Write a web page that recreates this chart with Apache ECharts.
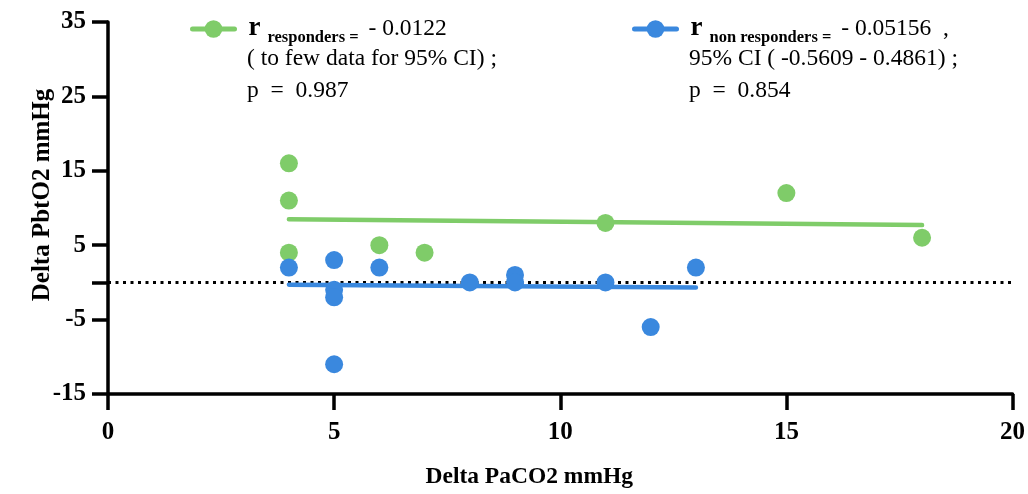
<!DOCTYPE html>
<html>
<head>
<meta charset="utf-8">
<script src="https://cdn.jsdelivr.net/npm/echarts@6/dist/echarts.min.js"></script>
<style>html,body{margin:0;padding:0;background:#fff}#c{width:1028px;height:494px}</style>
</head>
<body>
<div id="c"></div>
<script>
// Data
var respondersPoints = [[4,16],[4,11],[4,4],[6,5],[7,4],[11,8],[15,12],[18,6]];
var nonRespondersPoints = [[4,2],[5,3],[5,-1],[5,-2],[5,-11],[6,2],[8,0],[9,1],[9,0],[11,0],[12,-6],[13,2]];
var respondersFit = [[4,8.5],[18,7.7]];
var nonRespondersFit = [[4,-0.3],[13,-0.7]];
var zeroLine = [[0,0],[20,0]];
var xTicks = [0,5,10,15,20];
var yTickLabels = [-15,-5,5,15,25,35];
var yTicks = [-15,-5,0,5,15,25,35];
var respondersText = ['r', 'responders =', ' - 0.0122', '( to few data for 95% CI) ;', 'p  =  0.987'];
var nonRespondersText = ['r', 'non responders =', ' - 0.05156  ,', '95% CI ( -0.5609 - 0.4861) ;', 'p  =  0.854'];

var GREEN = '#7FCC69', BLUE = '#3A88DE';
var FONT = '"Liberation Serif", "Times New Roman", serif';

var rich = {
  r: {fontFamily: FONT, fontWeight: 'bold', fontSize: 27, color: '#000', verticalAlign: 'top', lineHeight: 26, padding: [-1,0,0,9]},
  sub: {fontFamily: FONT, fontWeight: 'bold', fontSize: 16.5, color: '#000', verticalAlign: 'top', lineHeight: 16, padding: [13,4,0,7]},
  v: {fontFamily: FONT, fontSize: 23.5, color: '#000', verticalAlign: 'top', lineHeight: 26, padding: [1,0,0,0]}
};
function legendFmt(t) { return '{r|' + t[0] + '}{sub|' + t[1] + '}{v|' + t[2] + '}'; }

var chart = echarts.init(document.getElementById('c'));
chart.setOption({
  animation: false,
  backgroundColor: '#fff',
  grid: {left: 108, right: 13, top: 22, bottom: 97, containLabel: false},
  legend: [
    {data: ['responders'], left: 185, top: 10, itemWidth: 42, itemHeight: 22, selectedMode: false,
     lineStyle: {width: 5}, formatter: function(){ return legendFmt(respondersText); }, textStyle: {rich: rich}},
    {data: ['non responders'], left: 627, top: 10, itemWidth: 42, itemHeight: 22, selectedMode: false,
     lineStyle: {width: 5}, formatter: function(){ return legendFmt(nonRespondersText); }, textStyle: {rich: rich}}
  ],
  graphic: [
    {type: 'text', left: 247, top: 43, style: {text: respondersText[3] + '\n' + respondersText[4], fontFamily: FONT, fontSize: 23.5, lineHeight: 32, fill: '#000'}},
    {type: 'text', left: 689, top: 43, style: {text: nonRespondersText[3] + '\n' + nonRespondersText[4], fontFamily: FONT, fontSize: 23.5, lineHeight: 32, fill: '#000'}}
  ],
  xAxis: {
    type: 'value', min: 0, max: 20, interval: 5,
    name: 'Delta PaCO2 mmHg', nameLocation: 'middle', nameGap: 71, nameMoveOverlap: false,
    nameTextStyle: {fontFamily: FONT, fontWeight: 'bold', fontSize: 23.5, color: '#000', padding: [0, 62, 0, 0]},
    axisLine: {show: true, onZero: false, lineStyle: {color: '#000', width: 3.5}},
    axisTick: {show: true, length: 16, lineStyle: {color: '#000', width: 3.5}, customValues: xTicks},
    axisLabel: {fontFamily: FONT, fontWeight: 'bold', fontSize: 25, color: '#000', margin: 26, customValues: xTicks},
    splitLine: {show: false}
  },
  yAxis: {
    type: 'value', min: -15, max: 35, interval: 10,
    name: 'Delta PbtO2 mmHg', nameLocation: 'middle', nameGap: 53, nameMoveOverlap: false,
    nameTextStyle: {fontFamily: FONT, fontWeight: 'bold', fontSize: 25, color: '#000', padding: [0, 0, 0, 26]},
    axisLine: {show: true, onZero: false, lineStyle: {color: '#000', width: 3.5}},
    axisTick: {show: true, length: 16, lineStyle: {color: '#000', width: 3.5}, customValues: yTicks},
    axisLabel: {fontFamily: FONT, fontWeight: 'bold', fontSize: 25, color: '#000', margin: 22, customValues: yTickLabels},
    splitLine: {show: false}
  },
  series: [
    {name: 'zero', type: 'line', data: zeroLine, symbol: 'none', silent: true, z: 1,
     lineStyle: {color: '#000', width: 3, type: [3, 4.5], cap: 'butt'}},
    {name: 'responders', type: 'line', data: respondersFit, symbol: 'circle', symbolSize: 18, showSymbol: false, z: 2,
     itemStyle: {color: GREEN}, lineStyle: {color: GREEN, width: 4.5, cap: 'round'}},
    {name: 'non responders', type: 'line', data: nonRespondersFit, symbol: 'circle', symbolSize: 18, showSymbol: false, z: 2,
     itemStyle: {color: BLUE}, lineStyle: {color: BLUE, width: 4.5, cap: 'round'}},
    {name: 'responders points', type: 'scatter', data: respondersPoints, symbol: 'circle', symbolSize: 18, z: 3,
     itemStyle: {color: GREEN, opacity: 1}},
    {name: 'non responders points', type: 'scatter', data: nonRespondersPoints, symbol: 'circle', symbolSize: 18, z: 3,
     itemStyle: {color: BLUE, opacity: 1}}
  ]
});
</script>
</body>
</html>
